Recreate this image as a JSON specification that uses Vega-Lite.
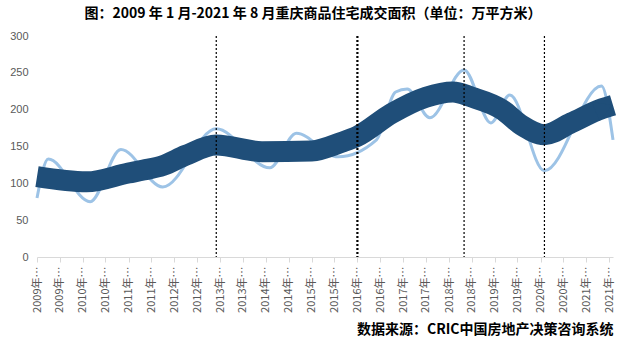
{
  "$schema": "https://vega.github.io/schema/vega-lite/v6.json",
  "width": 576,
  "height": 221,
  "autosize": "none",
  "padding": {"left": 37, "top": 36, "right": 21, "bottom": 81},
  "background": "white",
  "title": {
    "text": "图：2009 年 1 月-2021 年 8 月重庆商品住宅成交面积（单位：万平方米）",
    "font": "Noto Sans CJK SC",
    "fontSize": 14,
    "fontWeight": "bold",
    "color": "#000000",
    "anchor": "middle",
    "dx": -12,
    "offset": 9
  },
  "config": {
    "view": {"stroke": null},
    "font": "Noto Sans CJK SC"
  },
  "datasets": {
    "raw": [
      {"date": "2009-01-01", "value": 80},
      {"date": "2009-04-01", "value": 133},
      {"date": "2010-03-01", "value": 75},
      {"date": "2010-11-01", "value": 146},
      {"date": "2011-10-01", "value": 95},
      {"date": "2012-12-01", "value": 174},
      {"date": "2014-02-01", "value": 121},
      {"date": "2014-09-01", "value": 168},
      {"date": "2015-08-01", "value": 136},
      {"date": "2016-06-01", "value": 159},
      {"date": "2016-11-01", "value": 224},
      {"date": "2017-02-01", "value": 228},
      {"date": "2017-08-01", "value": 189},
      {"date": "2018-05-01", "value": 254},
      {"date": "2018-12-01", "value": 182},
      {"date": "2019-05-01", "value": 220},
      {"date": "2020-02-01", "value": 117},
      {"date": "2021-05-01", "value": 232},
      {"date": "2021-08-01", "value": 159}
    ],
    "trend": [
      {"date": "2009-01-01", "value": 109},
      {"date": "2010-02-01", "value": 102},
      {"date": "2011-01-01", "value": 114},
      {"date": "2011-05-01", "value": 118},
      {"date": "2011-10-01", "value": 124},
      {"date": "2012-04-01", "value": 138},
      {"date": "2012-12-01", "value": 152},
      {"date": "2013-12-01", "value": 143},
      {"date": "2015-01-01", "value": 144},
      {"date": "2015-09-01", "value": 156},
      {"date": "2016-01-01", "value": 164},
      {"date": "2016-10-01", "value": 195},
      {"date": "2017-07-01", "value": 217},
      {"date": "2018-02-01", "value": 224},
      {"date": "2018-07-01", "value": 217},
      {"date": "2019-03-01", "value": 200},
      {"date": "2019-08-01", "value": 179},
      {"date": "2020-02-01", "value": 166},
      {"date": "2020-09-01", "value": 182},
      {"date": "2021-05-01", "value": 201},
      {"date": "2021-08-01", "value": 206}
    ]
  },
  "encoding": {
    "x": {
      "field": "date",
      "type": "temporal",
      "scale": {
        "type": "utc",
        "domain": [
          {"year": 2009, "month": 1, "date": 1, "utc": true},
          {"year": 2021, "month": 8, "date": 1, "utc": true}
        ]
      },
      "axis": {
        "values": [
          {"year": 2009, "month": 1, "utc": true}, {"year": 2009, "month": 7, "utc": true},
          {"year": 2010, "month": 1, "utc": true}, {"year": 2010, "month": 7, "utc": true},
          {"year": 2011, "month": 1, "utc": true}, {"year": 2011, "month": 7, "utc": true},
          {"year": 2012, "month": 1, "utc": true}, {"year": 2012, "month": 7, "utc": true},
          {"year": 2013, "month": 1, "utc": true}, {"year": 2013, "month": 7, "utc": true},
          {"year": 2014, "month": 1, "utc": true}, {"year": 2014, "month": 7, "utc": true},
          {"year": 2015, "month": 1, "utc": true}, {"year": 2015, "month": 7, "utc": true},
          {"year": 2016, "month": 1, "utc": true}, {"year": 2016, "month": 7, "utc": true},
          {"year": 2017, "month": 1, "utc": true}, {"year": 2017, "month": 7, "utc": true},
          {"year": 2018, "month": 1, "utc": true}, {"year": 2018, "month": 7, "utc": true},
          {"year": 2019, "month": 1, "utc": true}, {"year": 2019, "month": 7, "utc": true},
          {"year": 2020, "month": 1, "utc": true}, {"year": 2020, "month": 7, "utc": true},
          {"year": 2021, "month": 1, "utc": true}, {"year": 2021, "month": 7, "utc": true}
        ],
        "labelExpr": "utcFormat(datum.value, '%Y') + '年…'",
        "labelAngle": -90,
        "labelAlign": "right",
        "labelBaseline": "middle",
        "labelFontSize": 11,
        "labelFont": "Noto Sans CJK SC",
        "labelColor": "#595959",
        "labelPadding": 4,
        "labelOverlap": false,
        "labelFlush": false,
        "grid": false,
        "domainColor": "#d9d9d9",
        "domainWidth": 1,
        "tickColor": "#d9d9d9",
        "tickSize": 5,
        "title": "数据来源：CRIC中国房地产决策咨询系统",
        "titleFont": "Noto Sans CJK SC",
        "titleFontSize": 14,
        "titleFontWeight": "bold",
        "titleColor": "#000000",
        "titleAnchor": "end",
        "titleAlign": "right",
        "titleBaseline": "alphabetic",
        "titleX": 576,
        "titleY": 76
      }
    },
    "y": {
      "field": "value",
      "type": "quantitative",
      "scale": {"domain": [0, 300], "nice": false},
      "axis": {
        "values": [0, 50, 100, 150, 200, 250, 300],
        "grid": false,
        "domain": false,
        "ticks": false,
        "labelPadding": 9,
        "labelFontSize": 11,
        "labelFont": "Liberation Sans",
        "labelColor": "#595959",
        "title": null
      }
    }
  },
  "layer": [
    {
      "data": {"name": "raw"},
      "mark": {"type": "line", "interpolate": "monotone", "color": "#9dc3e6", "strokeWidth": 3}
    },
    {
      "data": {"name": "trend"},
      "mark": {"type": "line", "interpolate": "monotone", "color": "#1f4e79", "strokeWidth": 21, "strokeCap": "butt"}
    },
    {
      "data": {"name": "trend"},
      "transform": [{"filter": "utcyear(datum.date) == 2021 && utcmonth(datum.date) == 7"}],
      "mark": {"type": "point", "shape": "triangle-right", "filled": true, "color": "#1f4e79", "opacity": 1, "size": 420, "angle": -22, "xOffset": -9, "yOffset": 3}
    },
    {
      "data": {"values": [
        {"date": "2012-12-01"},
        {"date": "2018-05-01"},
        {"date": "2020-02-01"}
      ]},
      "mark": {"type": "rule", "color": "#000000", "strokeWidth": 1.2, "strokeDash": [2, 2]},
      "encoding": {"x": {"field": "date", "type": "temporal"}, "y": null}
    },
    {
      "data": {"values": [{"date": "2016-01-01"}]},
      "mark": {"type": "rule", "color": "#000000", "strokeWidth": 2.2, "strokeDash": [2, 2]},
      "encoding": {"x": {"field": "date", "type": "temporal"}, "y": null}
    }
  ]
}
